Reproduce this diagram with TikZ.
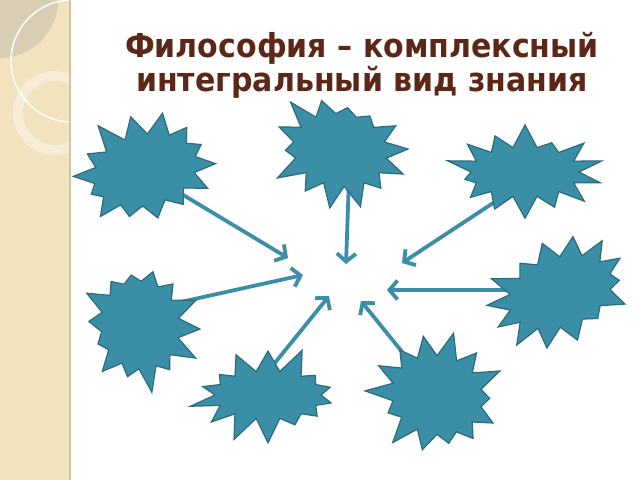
\documentclass[tikz,border=0pt]{standalone}
\usepackage{fontspec}
\setmainfont{DejaVu Sans}
\usetikzlibrary{shapes.symbols,arrows.meta,backgrounds}
\definecolor{burstfill}{HTML}{3A8FA7}
\definecolor{burstedge}{HTML}{2B6B7D}
\definecolor{titlebrown}{HTML}{5C2716}
\definecolor{stripfill}{HTML}{F2E2BD}
\definecolor{stripedge}{HTML}{D3C3A2}
\definecolor{stripgray}{HTML}{D9CDB4}

\begin{document}
\begin{tikzpicture}
      [   x=1pt,y=-1pt,
          burst/.style={starburst,draw=burstedge,fill=burstfill,line width=1.2pt,
                        starburst points=14,starburst point height=27pt,
                        inner sep=0pt,random starburst=#1},
          pointer/.style={draw=burstfill,line width=3.8pt,
                          -{Straight Barb[length=8pt,width=19pt]}},
          heading/.style={font=\bfseries\fontsize{33}{34}\selectfont,text=titlebrown,
                          anchor=base,inner sep=0pt,xscale=0.91,transform shape},
      ]
          \useasboundingbox (0,0) rectangle (640,480);
          \begin{scope}[on background layer]
              \fill[white] (0,0) rectangle (640,480);
              \begin{scope}
                  \clip (0,0) rectangle (70,480);
                  \fill[stripfill] (0,0) rectangle (70,480);
                  \fill[stripgray] (0,0) circle (58);
                  \draw[white,line width=1.5pt] (72,61) circle (61);
                  \draw[white,opacity=0.4,line width=10pt] (55,113) circle (37);
              \end{scope}
              \draw[stripedge,line width=2pt] (70,0) -- (70,480);
          \end{scope}
          \node[heading] (title-a) at (362,57) {Философия – комплексный};
          \node[heading] (title-b) at (362,91) {интегральный вид знания};
          % bursts round the empty centre
          \foreach \n/\x/\y/\w/\h/\r/\s in {tl/145/170/158/124/15/11, tc/340/150/148/126/-10/23,
              tr/525/172/162/104/0/37, r/560/292/160/122/20/41, br/437/395/145/132/-15/53,
              bc/268/395/160/102/0/67, l/140/325/132/142/10/79}
          {   \node[burst=\s,minimum width=\w pt,minimum height=\h pt,rotate=\r] (b-\n) at (\x,\y) {};
          }
          \begin{scope}[on background layer]
          \foreach \n/\sx/\sy/\tx/\ty in {tl/0/2/288/258, tc/10/0/346/264, tr/0/10/402/263,
              r/0/-2/387/290, br/0/0/361/301, bc/-19/0/329/296, l/0/-14/303/275}
          {   \coordinate (t-\n) at (\tx,\ty);
              \draw[pointer] ([shift={(\sx,\sy)}]b-\n.center) -- (t-\n);
          }
          \end{scope}
\end{tikzpicture}
\end{document}
